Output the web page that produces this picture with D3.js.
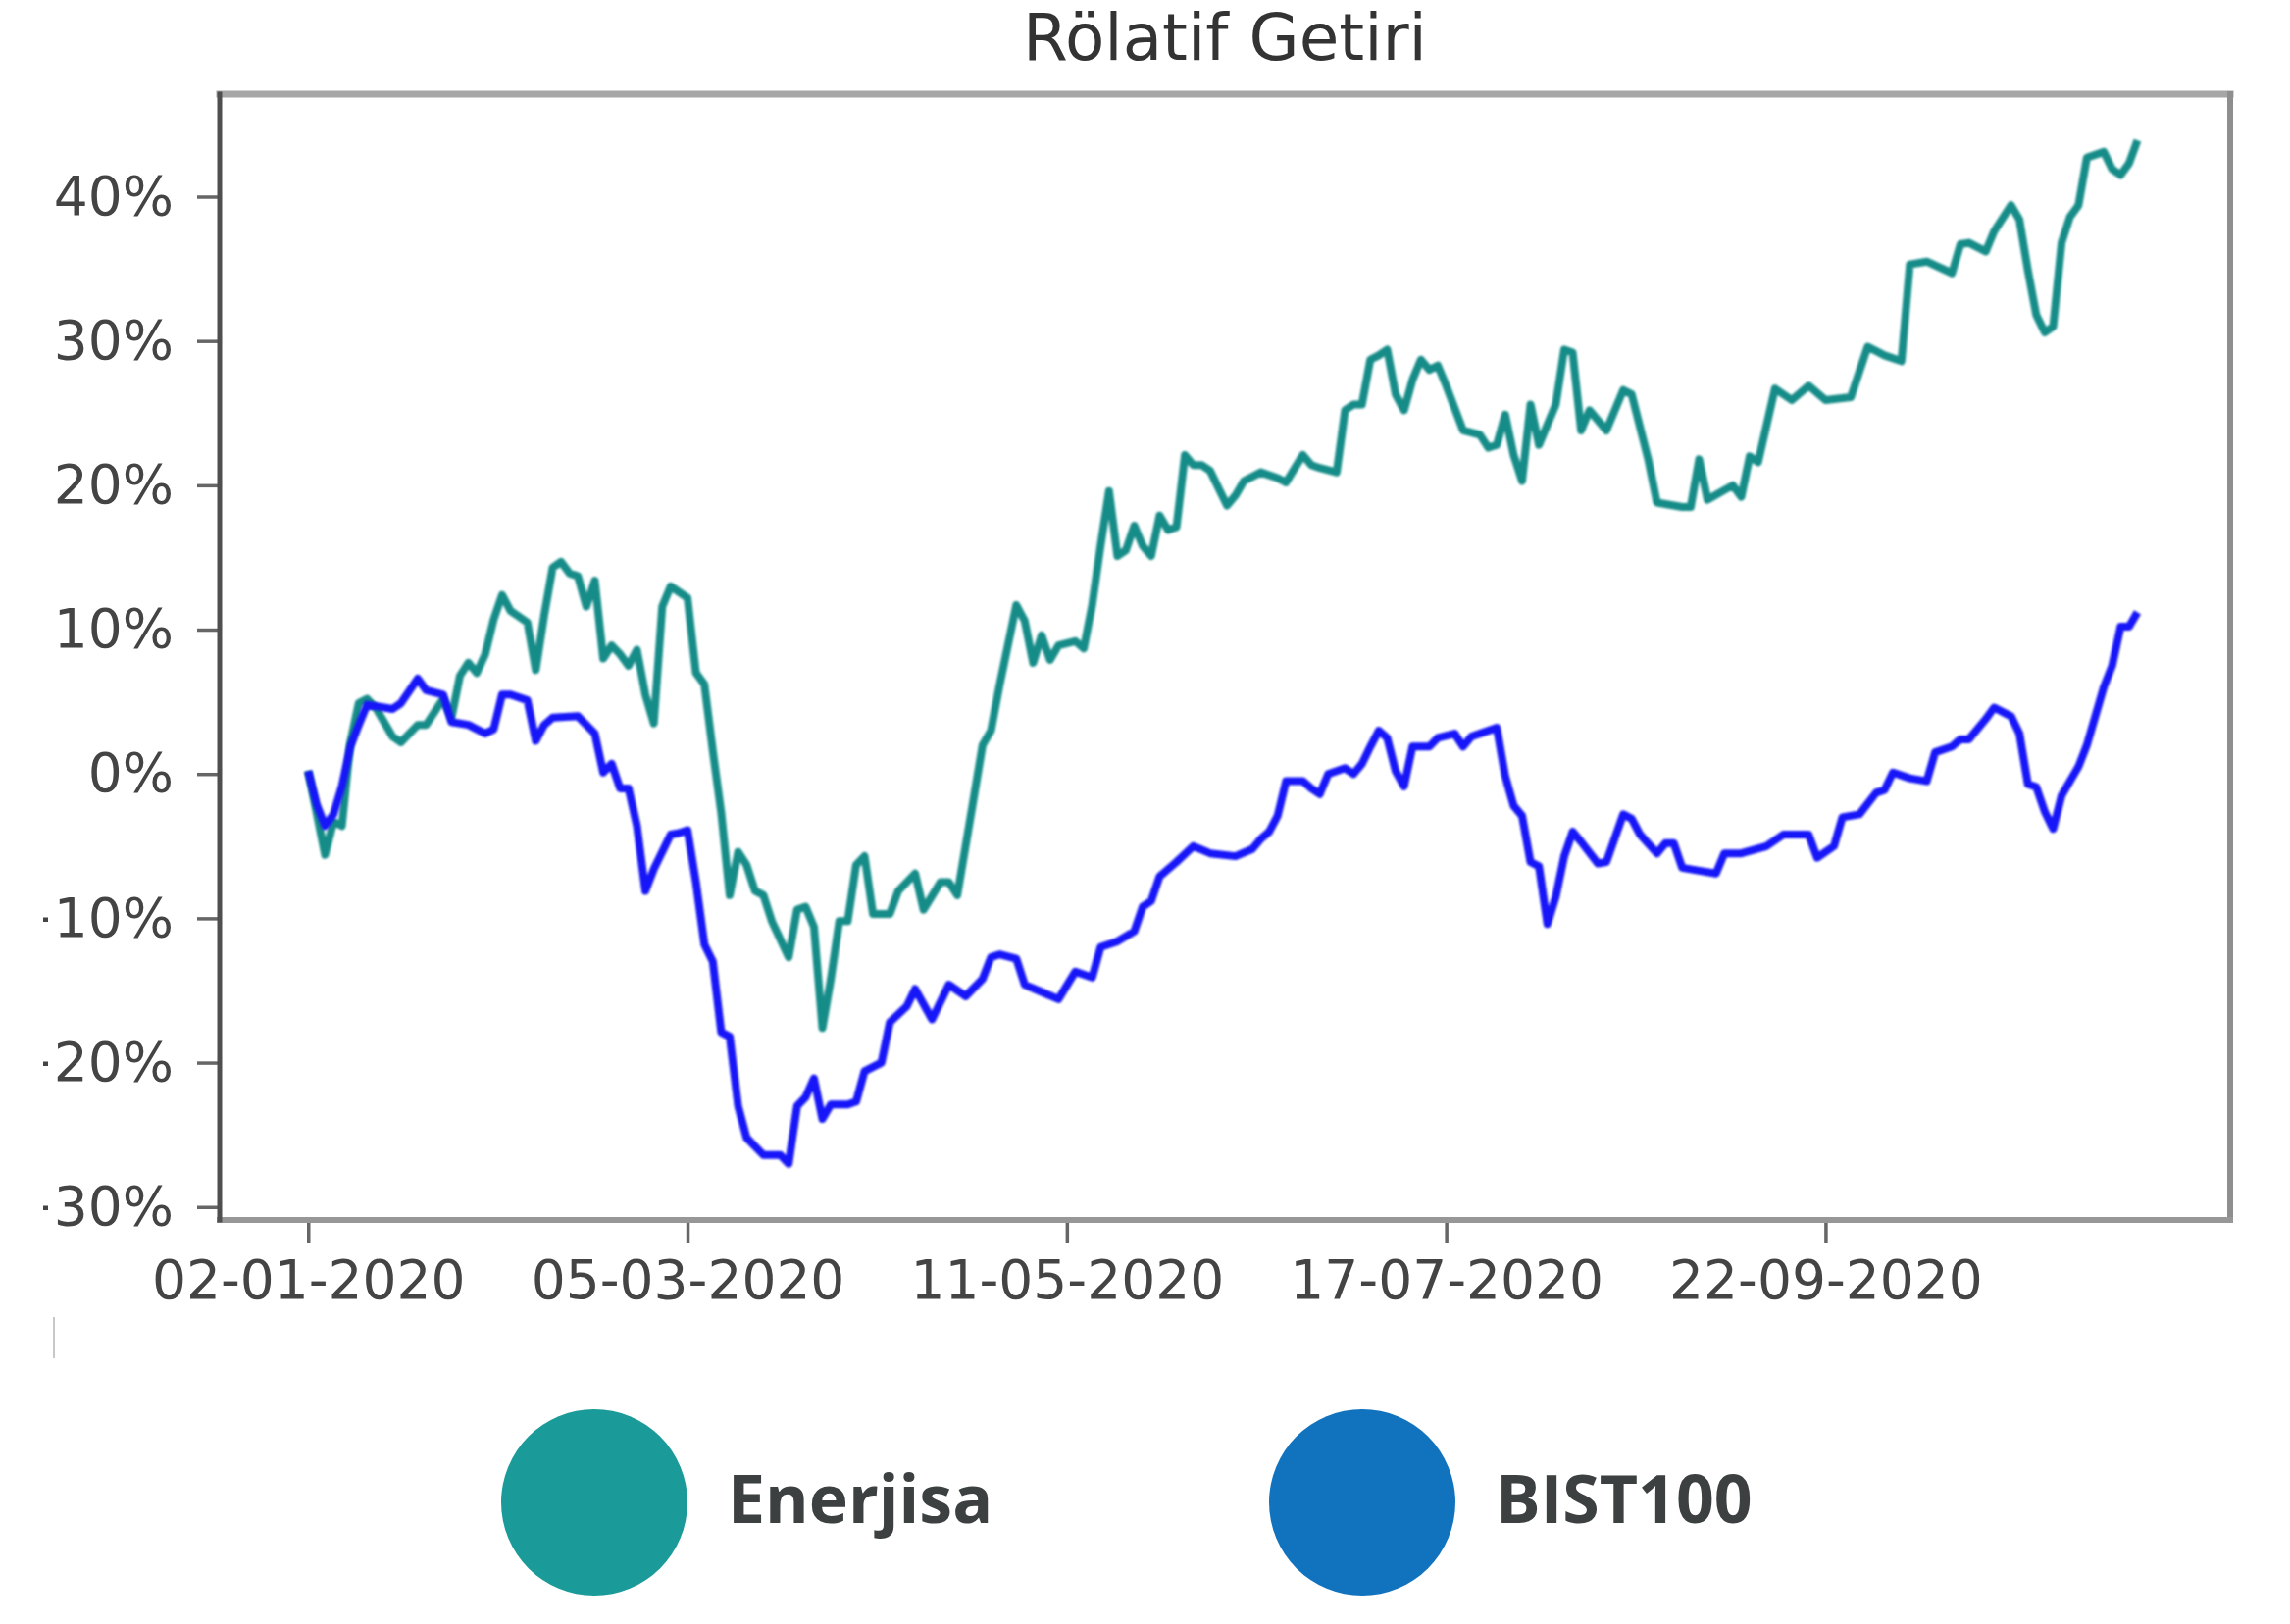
<!DOCTYPE html>
<html>
<head>
<meta charset="utf-8">
<script src="https://cdn.jsdelivr.net/npm/d3@7"></script>
<style>
  body { margin: 0; background: #fff; }
  svg { display: block; background: #fff; }
</style>
</head>
<body>
<svg width="2335" height="1656"></svg>
<script>
// [islem gunu, getiri %]
const enerjisa = [[0,0.2],[2,-5.6],[3,-3.3],[4,-3.6],[5,2.2],[6,4.9],[7,5.2],[8,4.6],[10,2.6],[11,2.2],[12,2.8],[13,3.4],[14,3.4],[16,5.2],[17,3.9],[18,6.8],[19,7.7],[20,7.0],[21,8.3],[22,10.7],[23,12.4],[24,11.3],[25,10.9],[26,10.5],[27,7.2],[28,11.0],[29,14.3],[30,14.7],[31,13.9],[32,13.7],[33,11.6],[34,13.4],[35,8.0],[36,8.9],[37,8.3],[38,7.5],[39,8.6],[40,5.5],[41,3.5],[42,11.6],[43,13.0],[45,12.2],[46,7.0],[47,6.2],[48,1.6],[49,-2.7],[50,-8.4],[51,-5.4],[52,-6.3],[53,-8.1],[54,-8.4],[55,-10.2],[57,-12.7],[58,-9.4],[59,-9.2],[60,-10.6],[61,-17.6],[62,-14.2],[63,-10.2],[64,-10.2],[65,-6.3],[66,-5.7],[67,-9.7],[69,-9.7],[70,-8.1],[72,-6.9],[73,-9.4],[75,-7.5],[76,-7.5],[77,-8.4],[79,-1.5],[80,2.0],[81,3.0],[82,6.1],[84,11.7],[85,10.6],[86,7.7],[87,9.6],[88,7.9],[89,8.9],[91,9.2],[92,8.7],[93,11.7],[94,15.8],[95,19.6],[96,15.1],[97,15.5],[98,17.2],[99,15.8],[100,15.1],[101,17.9],[102,16.9],[103,17.1],[104,22.1],[105,21.4],[106,21.4],[107,21.0],[109,18.6],[110,19.3],[111,20.3],[113,20.9],[115,20.5],[116,20.2],[118,22.1],[119,21.4],[120,21.2],[122,20.9],[123,25.2],[124,25.6],[125,25.6],[126,28.7],[127,29.0],[128,29.4],[129,26.3],[130,25.2],[131,27.3],[132,28.7],[133,28.0],[134,28.3],[135,26.9],[137,23.8],[139,23.5],[140,22.6],[141,22.8],[142,24.9],[143,22.1],[144,20.3],[145,25.6],[146,22.8],[148,25.6],[149,29.4],[150,29.2],[151,23.8],[152,25.2],[154,23.8],[156,26.6],[157,26.3],[159,21.7],[160,18.8],[163,18.5],[164,18.5],[165,21.8],[166,19.0],[169,20.0],[170,19.2],[171,22.0],[172,21.6],[174,26.7],[176,25.9],[178,26.9],[180,25.9],[183,26.1],[185,29.6],[187,29.0],[189,28.6],[190,35.3],[192,35.5],[195,34.7],[196,36.7],[197,36.8],[199,36.2],[200,37.6],[202,39.4],[203,38.4],[204,34.9],[205,31.8],[206,30.6],[207,31.0],[208,36.8],[209,38.6],[210,39.4],[211,42.7],[213,43.1],[214,41.9],[215,41.5],[216,42.3],[217,43.9]];

const bist100 = [[0,0.2],[1,-2.1],[2,-3.6],[3,-2.8],[4,-0.85],[5,1.9],[6,3.4],[7,4.8],[9,4.6],[10,4.5],[11,4.9],[13,6.6],[14,5.8],[16,5.5],[17,3.6],[19,3.4],[21,2.8],[22,3.1],[23,5.5],[24,5.5],[26,5.1],[27,2.3],[28,3.4],[29,3.9],[32,4.0],[33,3.4],[34,2.8],[35,0.1],[36,0.7],[37,-1.0],[38,-1.0],[39,-3.6],[40,-8.1],[41,-6.6],[43,-4.2],[44,-4.1],[45,-3.9],[46,-7.5],[47,-11.8],[48,-13.0],[49,-17.9],[50,-18.2],[51,-23.0],[52,-25.2],[54,-26.4],[56,-26.4],[57,-27.0],[58,-23.0],[59,-22.4],[60,-21.1],[61,-23.9],[62,-22.9],[64,-22.9],[65,-22.7],[66,-20.6],[68,-20.0],[69,-17.2],[71,-16.1],[72,-14.9],[74,-17.0],[76,-14.6],[78,-15.4],[80,-14.2],[81,-12.7],[82,-12.5],[84,-12.8],[85,-14.6],[87,-15.1],[89,-15.6],[91,-13.7],[92,-13.9],[93,-14.1],[94,-12.0],[96,-11.6],[98,-10.9],[99,-9.2],[100,-8.8],[101,-7.1],[103,-6.1],[105,-5.0],[107,-5.5],[110,-5.7],[112,-5.2],[113,-4.5],[114,-4.0],[115,-2.9],[116,-0.5],[118,-0.5],[119,-1.0],[120,-1.4],[121,0.0],[123,0.4],[124,0.0],[125,0.7],[126,1.9],[127,3.0],[128,2.5],[129,0.2],[130,-0.85],[131,1.9],[133,1.9],[134,2.5],[136,2.8],[137,1.9],[138,2.6],[141,3.2],[142,-0.15],[143,-2.2],[144,-2.9],[145,-6.1],[146,-6.4],[147,-10.4],[148,-8.5],[149,-5.7],[150,-4.0],[151,-4.7],[153,-6.2],[154,-6.1],[156,-2.8],[157,-3.1],[158,-4.2],[160,-5.5],[161,-4.8],[162,-4.8],[163,-6.5],[165,-6.7],[167,-6.9],[168,-5.5],[170,-5.5],[173,-5.0],[175,-4.2],[178,-4.2],[179,-5.8],[181,-5.0],[182,-3.0],[184,-2.8],[186,-1.3],[187,-1.1],[188,0.1],[190,-0.3],[192,-0.5],[193,1.5],[195,1.9],[196,2.4],[197,2.4],[199,3.8],[200,4.6],[202,4.0],[203,2.8],[204,-0.7],[205,-0.9],[206,-2.6],[207,-3.8],[208,-1.5],[210,0.5],[211,2.0],[213,6.0],[214,7.5],[215,10.2],[216,10.2],[217,11.2]];

const tickDays = [0, 45, 90, 135, 180];
const tickLabels = ["02-01-2020", "05-03-2020", "11-05-2020", "17-07-2020", "22-09-2020"];
const yTicks = [-30, -20, -10, 0, 10, 20, 30, 40];
const seriesNames = ["Enerjisa", "BIST100"];

const attr_area = {
    left: 224,
    right: 2274,
    top: 96,
    bottom: 1244
};

function drawChart() {
    let svg = d3.select("svg");
    svg.selectAll("*").remove();

    let defs = svg.append("defs");
    defs.append("filter").attr("id", "soft")
        .append("feGaussianBlur").attr("stdDeviation", 1.1);
    // sol kenar kirpilmis (eksi isaretleri neredeyse gorunmuyor)
    defs.append("clipPath").attr("id", "cut")
        .append("rect").attr("x", 44).attr("y", 0).attr("width", 2291).attr("height", 1656);

    const [scX, scY] = createAxis(svg);

    createLine(svg, enerjisa, scX, scY, "#188c88");
    createLine(svg, bist100, scX, scY, "#1515f8");

    createFrame(svg);

    svg.append("text")
        .attr("x", (attr_area.left + attr_area.right) / 2)
        .attr("y", 61)
        .attr("text-anchor", "middle")
        .style("font-family", "DejaVu Sans")
        .style("font-size", "66px")
        .style("fill", "#333")
        .text("Rölatif Getiri");

    // ince gri cizgi
    svg.append("line")
        .attr("x1", 55).attr("x2", 55)
        .attr("y1", 1343).attr("y2", 1385)
        .attr("stroke", "#c8c8c8").attr("stroke-width", 2);

    createLegend(svg);
}

function createAxis(svg) {
    let scaleX = d3.scaleLinear()
                   .domain([-10.5, 228])
                   .range([attr_area.left, attr_area.right]);

    let scaleY = d3.scaleLinear()
                   .domain([-30.9, 47.1])
                   .range([attr_area.bottom, attr_area.top]);

    let axisX = d3.axisBottom(scaleX)
                  .tickValues(tickDays)
                  .tickFormat((d, i) => tickLabels[i])
                  .tickSize(24)
                  .tickPadding(17);

    let axisY = d3.axisLeft(scaleY)
                  .tickValues(yTicks)
                  .tickFormat(d => (d < 0 ? "\u2212" : "") + Math.abs(d) + "%")
                  .tickSize(23)
                  .tickPadding(24);

    let gx = svg.append("g")
        .attr("transform", `translate(0, ${attr_area.bottom})`)
        .call(axisX);

    let gy = svg.append("g")
        .attr("clip-path", "url(#cut)")
        .append("g")
        .attr("transform", `translate(${attr_area.left}, 0)`)
        .call(axisY);

    [gx, gy].forEach(g => {
        g.select(".domain").remove();
        g.selectAll(".tick line").attr("stroke", "#666").attr("stroke-width", 3.5);
        g.selectAll(".tick text")
         .style("font-family", "DejaVu Sans")
         .style("font-size", "55px")
         .style("fill", "#444");
    });

    return [scaleX, scaleY];
}

function createLine(svg, data, scaleX, scaleY, color) {
    let line = d3.line()
                 .x(d => scaleX(d[0]))
                 .y(d => scaleY(d[1]));

    svg.append("path")
       .datum(data)
       .attr("d", line)
       .attr("fill", "none")
       .attr("stroke", color)
       .attr("stroke-width", 8)
       .attr("stroke-linejoin", "round")
       .attr("filter", "url(#soft)");
}

function createFrame(svg) {
    let a = attr_area;
    let sides = [
        [a.left, a.top, a.right, a.top, "#a6a6a6", 7],
        [a.right, a.top, a.right, a.bottom, "#8e8e8e", 6],
        [a.left, a.bottom, a.right, a.bottom, "#979797", 6],
        [a.left, a.top, a.left, a.bottom, "#4f4f4f", 5]
    ];
    svg.append("g").selectAll("line")
       .data(sides)
       .enter()
       .append("line")
       .attr("x1", d => d[0]).attr("y1", d => d[1])
       .attr("x2", d => d[2]).attr("y2", d => d[3])
       .attr("stroke", d => d[4])
       .attr("stroke-width", d => d[5])
       .attr("stroke-linecap", "square");
}

function createLegend(svg) {
    const colors = ["#1a9a98", "#1172be"];
    const posX = [606, 1389];

    let g = svg.append("g");
    g.selectAll("circle")
     .data(seriesNames)
     .enter()
     .append("circle")
     .attr("cx", (d, i) => posX[i])
     .attr("cy", 1532)
     .attr("r", 95)
     .style("fill", (d, i) => colors[i]);

    g.selectAll("text")
     .data(seriesNames)
     .enter()
     .append("text")
     .attr("x", (d, i) => posX[i] + 136)
     .attr("y", 1553)
     .style("font-family", "Open Sans")
     .style("font-weight", 700)
     .style("font-size", "68px")
     .style("fill", "#3c4041")
     .text(d => d);
}

drawChart();
</script>
</body>
</html>
